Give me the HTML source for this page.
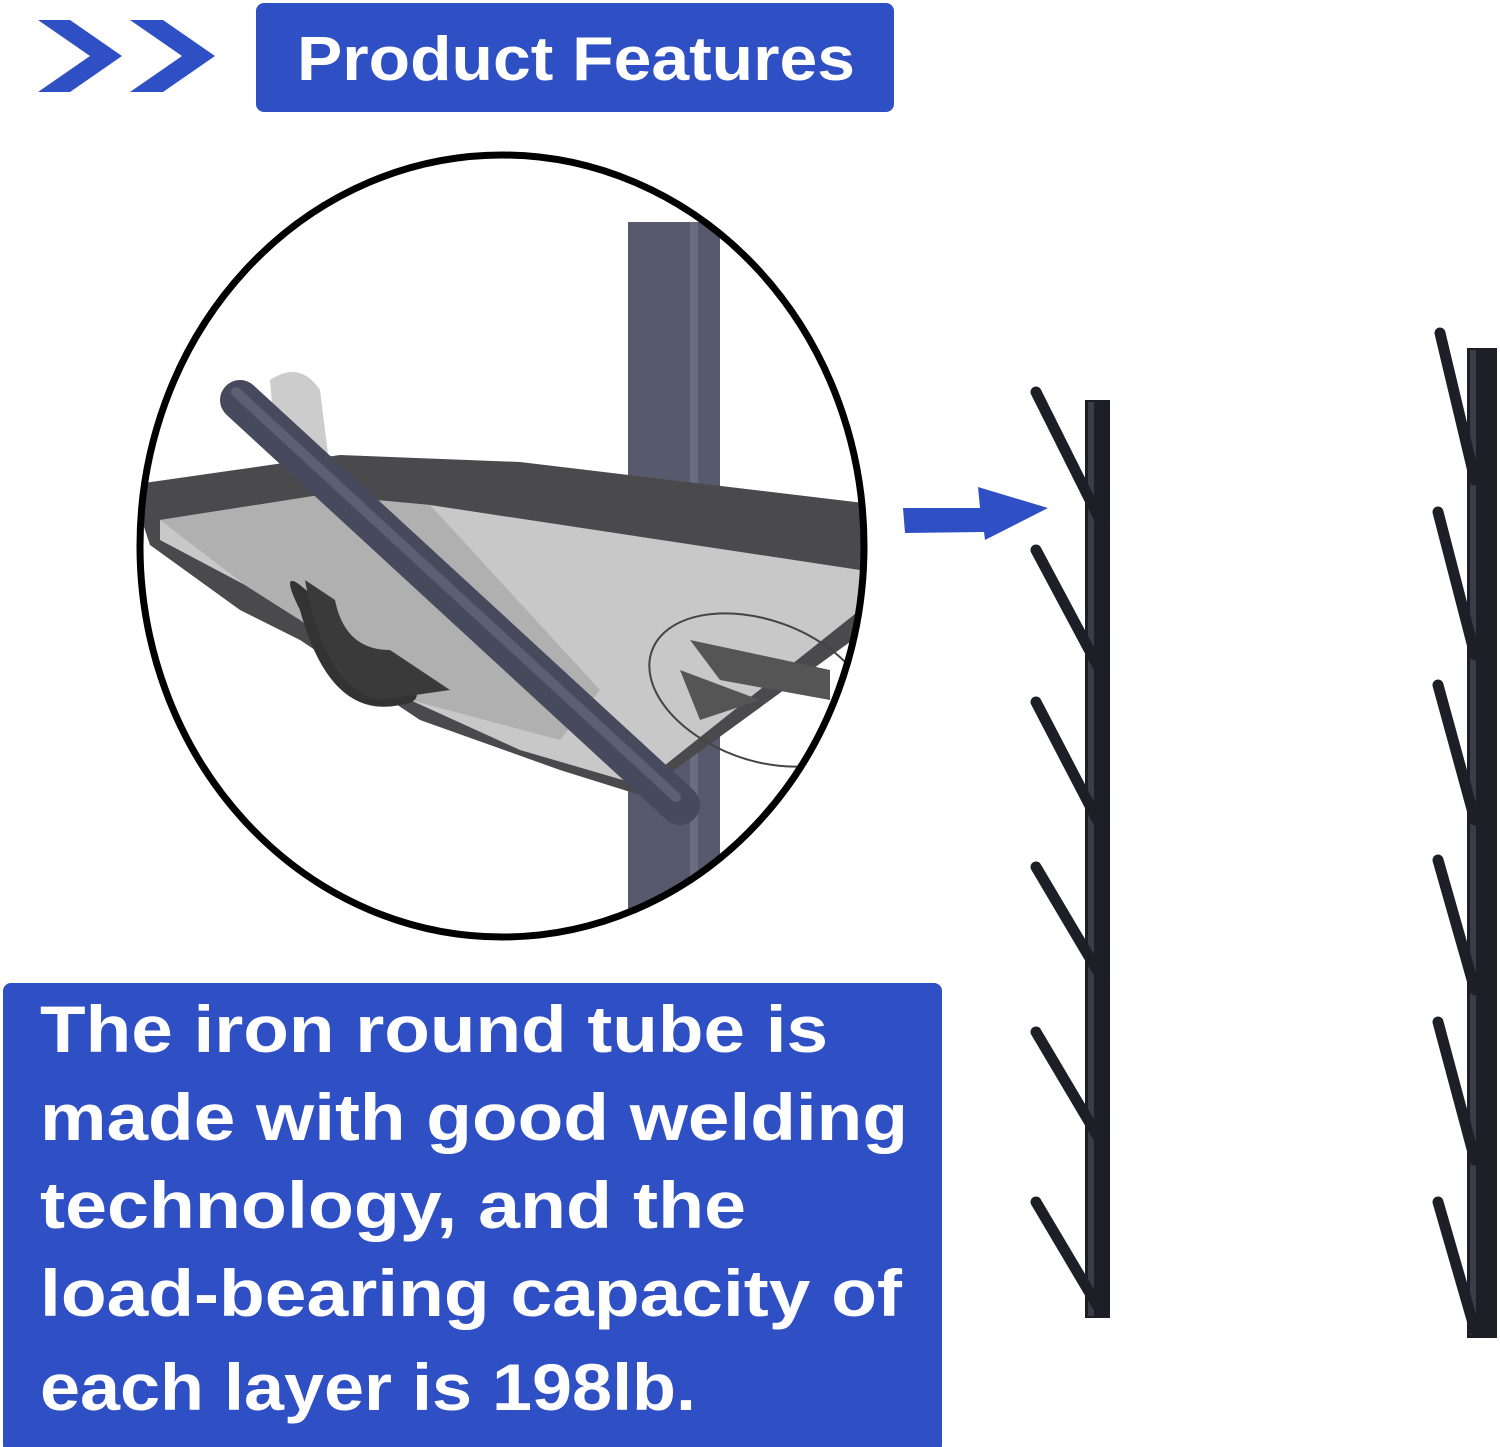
<!DOCTYPE html>
<html><head><meta charset="utf-8"><style>
html,body{margin:0;padding:0;background:#fff;}
svg{display:block}
</style></head><body>
<svg width="1500" height="1447" viewBox="0 0 1500 1447" xmlns="http://www.w3.org/2000/svg">
<defs>
<clipPath id="c"><ellipse cx="502" cy="546" rx="362" ry="391"/></clipPath>
</defs>
<rect width="1500" height="1447" fill="#fff"/>
<polygon points="38,20 70,20 122,56 70,92 38,92 90,56" fill="#2f4fc4"/>
<polygon points="130,20 163,20 215,56 163,92 130,92 182,56" fill="#2f4fc4"/>
<rect x="256" y="3" width="638" height="109" rx="8" fill="#2f4fc4"/>
<text x="297" y="80" font-family="Liberation Sans, sans-serif" font-weight="bold" font-size="62" fill="#fff" textLength="558" lengthAdjust="spacingAndGlyphs">Product Features</text>

<g clip-path="url(#c)">
<rect x="628" y="222" width="92" height="720" fill="#575a6c"/>
<rect x="690" y="222" width="8" height="720" fill="#6a6d80"/>
<path d="M270,380 Q300,360 320,390 L330,470 L275,440 Z" fill="#ccc"/>
<polygon points="130,485 340,455 520,462 880,505 880,620 640,795 560,770 420,720 300,640 240,610 150,545" fill="#4a4a4c"/>
<polygon points="160,520 320,495 430,505 860,570 860,610 640,785 520,750 410,700 300,620 245,585 160,540" fill="#c8c8c8"/>
<polygon points="160,520 320,495 430,505 600,690 560,740 410,700 300,620 245,585" fill="#b0b0b0"/>
<ellipse cx="760" cy="690" rx="115" ry="70" fill="none" stroke="#444" stroke-width="2" transform="rotate(20 760 690)"/>
<polygon points="690,640 830,670 830,700 720,680" fill="#555"/>
<polygon points="680,670 760,700 700,720" fill="#555"/>
<path d="M300,585 Q280,570 300,610 Q330,720 400,705 Q440,700 385,660 Q340,670 330,610 Z" fill="#333"/>
<path d="M305,580 Q325,690 380,700 L450,690 L390,650 Q345,650 335,600 Z" fill="#3a3a3a"/>
<line x1="240" y1="400" x2="680" y2="805" stroke="#464a5c" stroke-width="40" stroke-linecap="round"/>
<line x1="236" y1="392" x2="676" y2="797" stroke="#5c6073" stroke-width="10" stroke-linecap="round"/>
</g>
<ellipse cx="502" cy="546" rx="362" ry="391" fill="none" stroke="#000" stroke-width="7"/>

<polygon points="903,508 980,508 978,487 1048,508 985,540 984,532 905,533" fill="#2f4fc4"/>

<rect x="1085" y="400" width="25" height="918" fill="#1e1f26"/>
<rect x="1088" y="402" width="6" height="914" fill="#3a3c48"/>
<g stroke="#1e1f26" stroke-width="11" stroke-linecap="round">
<line x1="1036" y1="392" x2="1100" y2="520"/>
<line x1="1036" y1="550" x2="1100" y2="670"/>
<line x1="1036" y1="702" x2="1100" y2="825"/>
<line x1="1036" y1="867" x2="1100" y2="975"/>
<line x1="1036" y1="1032" x2="1100" y2="1140"/>
<line x1="1036" y1="1202" x2="1100" y2="1310"/>
</g>
<rect x="1467" y="348" width="30" height="990" fill="#1e1f26"/>
<rect x="1470" y="350" width="6" height="985" fill="#3a3c48"/>
<g stroke="#1e1f26" stroke-width="11" stroke-linecap="round">
<line x1="1440" y1="333" x2="1475" y2="480"/>
<line x1="1438" y1="512" x2="1475" y2="655"/>
<line x1="1438" y1="685" x2="1475" y2="820"/>
<line x1="1438" y1="860" x2="1475" y2="990"/>
<line x1="1438" y1="1022" x2="1475" y2="1160"/>
<line x1="1438" y1="1202" x2="1475" y2="1330"/>
</g>

<rect x="3" y="983" width="939" height="470" rx="8" fill="#2f4fc4"/>
<g font-family="Liberation Sans, sans-serif" font-weight="bold" font-size="66" fill="#fff">
<text x="40" y="1052" textLength="788" lengthAdjust="spacingAndGlyphs">The iron round tube is</text>
<text x="40" y="1140" textLength="868" lengthAdjust="spacingAndGlyphs">made with good welding</text>
<text x="40" y="1228" textLength="706" lengthAdjust="spacingAndGlyphs">technology, and the</text>
<text x="40" y="1316" textLength="862" lengthAdjust="spacingAndGlyphs">load-bearing capacity of</text>
<text x="40" y="1410" textLength="656" lengthAdjust="spacingAndGlyphs">each layer is 198lb.</text>
</g>
</svg>
</body></html>
